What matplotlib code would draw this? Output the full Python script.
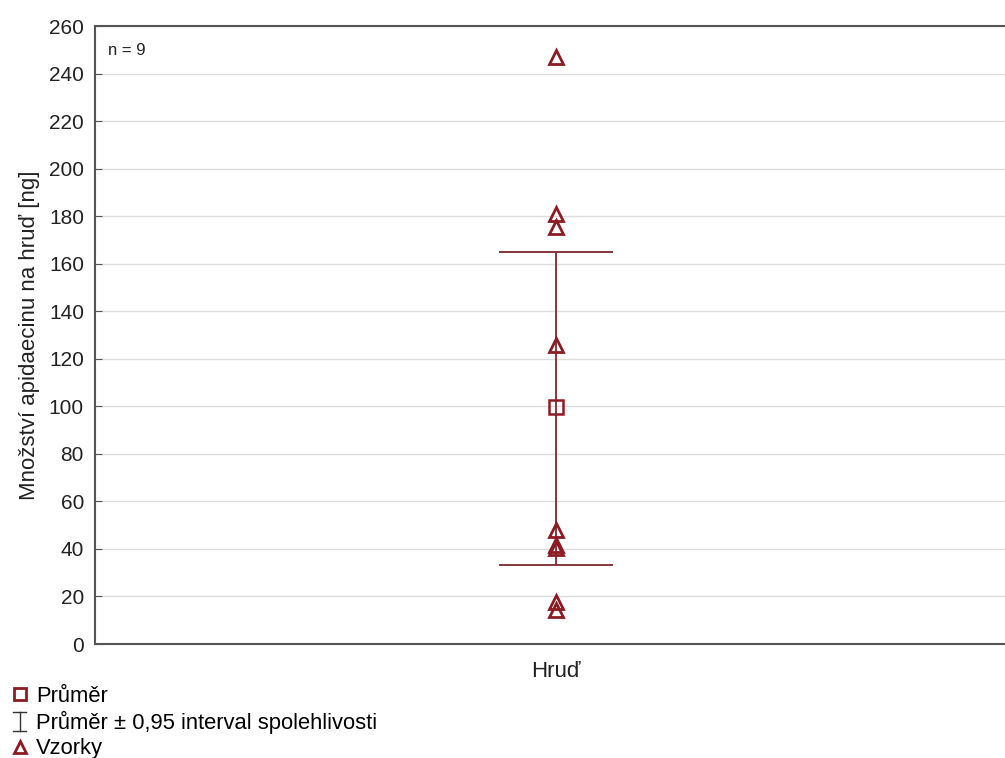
import matplotlib.pyplot as plt
import numpy as np
from matplotlib.lines import Line2D
from matplotlib.legend_handler import HandlerBase

plt.rcParams['font.family'] = ['Liberation Sans', 'DejaVu Sans']

# data
category = ['Hruď']
samples = [247, 181, 175.5, 126, 48, 41.5, 40.5, 17.5, 14.5]
mean_val = 99.5
ci_low = 33.2
ci_high = 165.0
yticks = list(range(0, 261, 20))

red = '#8b1c24'
bar_col = '#7a2a2e'
txt = '#222222'


class IBeamHandler(HandlerBase):
    # I-shaped symbol for the confidence interval entry
    def create_artists(self, legend, orig, xd, yd, w, h, fs, trans):
        cx = xd + w / 2
        half = h * 0.62
        cap = w * 0.38
        lines = [
            Line2D([cx, cx], [yd + h/2 - half, yd + h/2 + half], color='#333333', lw=1.0),
            Line2D([cx - cap, cx + cap], [yd + h/2 + half]*2, color='#333333', lw=1.0),
            Line2D([cx - cap, cx + cap], [yd + h/2 - half]*2, color='#333333', lw=1.0),
        ]
        for l in lines:
            l.set_transform(trans)
        return lines


fig = plt.figure(figsize=(10.05, 7.58), dpi=100)
# plot area: left 95px, top 26px, bottom 644px, right runs past the image edge
ax = fig.add_axes([95/1005, (758-644)/758, (1017-95)/1005, (644-26)/758])

x0 = 0
ax.errorbar([x0], [mean_val], yerr=[[mean_val-ci_low], [ci_high-mean_val]],
            fmt='none', ecolor=bar_col, elinewidth=1.3, capsize=41, capthick=1.3, zorder=3)
ax.plot([x0]*len(samples), samples, linestyle='none', marker='^', ms=10,
        mfc='none', mec=red, mew=2, zorder=4)
ax.plot([x0], [mean_val], linestyle='none', marker='s', ms=10,
        mfc='none', mec=red, mew=1.8, zorder=5)

ax.set_xlim(-1, 1)
ax.set_ylim(0, 260)
ax.set_yticks(yticks)
ax.set_xticks([x0])
ax.set_xticklabels(category, fontsize=16)
ax.grid(axis='y', color='#dddddd', lw=1)
ax.set_axisbelow(True)
ax.tick_params(axis='y', direction='in', length=5, color='#555555', labelsize=15, labelcolor=txt, pad=8)
ax.tick_params(axis='x', length=0, labelcolor=txt, pad=12)
for s in ['left', 'bottom', 'top']:
    ax.spines[s].set_color('#555555')
    ax.spines[s].set_linewidth(1.5)
ax.spines['right'].set_visible(False)

ax.set_ylabel('Množství apidaecinu na hruď [ng]', fontsize=16, color=txt, labelpad=6)
ax.text(0.014, 0.972, 'n = 9', transform=ax.transAxes, fontsize=12, color=txt,
        ha='left', va='top')

ci_proxy = Line2D([], [])
handles = [
    Line2D([], [], linestyle='none', marker='s', ms=8, mfc='none', mec=red, mew=2),
    ci_proxy,
    Line2D([], [], linestyle='none', marker='^', ms=8, mfc='none', mec=red, mew=2),
]
labels = ['Průměr', 'Průměr ± 0,95 interval spolehlivosti', 'Vzorky']
fig.legend(handles, labels, loc='upper left', bbox_to_anchor=(0.0, 0.11),
           frameon=False, fontsize=15.8, handlelength=0.8, handletextpad=0.35,
           labelspacing=0.2, borderaxespad=0.3, borderpad=0.2,
           handler_map={ci_proxy: IBeamHandler()})

fig.savefig('out.png', dpi=100)
